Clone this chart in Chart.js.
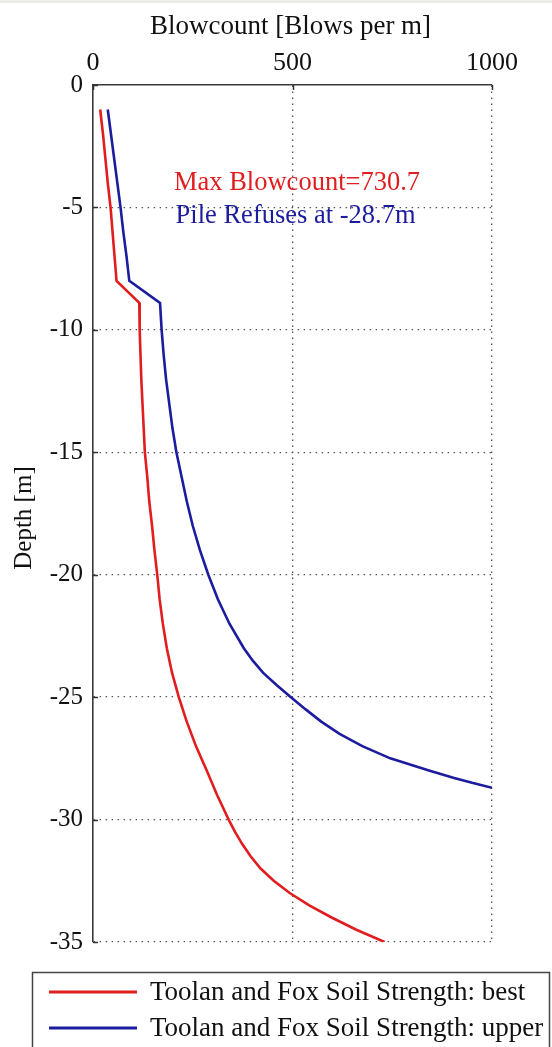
<!DOCTYPE html>
<html>
<head>
<meta charset="utf-8">
<script src="https://cdn.jsdelivr.net/npm/chart.js@4/dist/chart.umd.min.js"></script>
<style>
  html, body { margin: 0; padding: 0; background: #ffffff; }
  #wrap { width: 552px; height: 1047px; }
</style>
</head>
<body>
<div id="wrap"><canvas id="grafica" width="552" height="1047"></canvas></div>
<script>
// Datos (profundidad en m, golpes por m)
const profundidadBest = [-1, -2, -3, -4, -5, -6, -7, -8, -8.9, -10, -11, -12, -13, -14, -15, -16, -17, -18, -19, -20,
  -21, -22, -23, -24, -25, -26, -27, -28, -29, -30, -30.5, -31, -31.5, -32, -32.5, -33, -33.5, -34, -34.5, -35];
const golpesBest = [18, 25, 31, 37, 44, 49, 54, 59, 116, 117, 119, 121, 124, 127, 130, 136, 141, 148, 154, 161,
  167, 175, 185, 198, 215, 235, 258, 285, 311, 340, 356, 374, 395, 420, 453, 493, 542, 598, 660, 730.7];

const profundidadUpper = [-1, -2, -3, -4, -5, -6, -7, -8, -8.9, -10, -11, -12, -13, -14, -15, -16, -17, -18, -19, -20,
  -21, -22, -23, -23.5, -24, -24.5, -25, -25.5, -26, -26.5, -27, -27.5, -28, -28.3, -28.5, -28.7];
const golpesUpper = [37, 45, 53, 61, 69, 76, 84, 91, 168, 172, 177, 183, 191, 199, 209, 222, 235, 250, 268, 289,
  313, 342, 378, 400, 426, 460, 496, 533, 572, 618, 675, 745, 842, 905, 950, 1000];

const etiquetas = ['Toolan and Fox Soil Strength: best', 'Toolan and Fox Soil Strength: upper'];
const ticksX = [0, 500, 1000];
const ticksY = [0, -5, -10, -15, -20, -25, -30, -35];

const ROJO = '#e11d1f';
const AZUL = '#1c1c9e';
const FUENTE = "'Liberation Serif', 'Times New Roman', serif";

function aPuntos(xs, ys) {
  return xs.map((x, i) => ({ x: x, y: ys[i] }));
}

// Textos, marcas interiores y leyenda dibujados a mano
const decoraciones = {
  id: 'decoraciones',
  beforeDraw(chart) {
    const ctx = chart.ctx;
    ctx.save();
    ctx.fillStyle = '#ffffff';
    ctx.fillRect(0, 0, chart.width, chart.height);
    ctx.fillStyle = '#ebebe7';
    ctx.fillRect(0, 0, chart.width, 3);
    ctx.restore();
  },
  afterDraw(chart) {
    const ctx = chart.ctx;
    const area = chart.chartArea;
    const sx = chart.scales.x;
    const sy = chart.scales.y;
    ctx.save();

    // marcas hacia dentro
    ctx.strokeStyle = '#333';
    ctx.lineWidth = 1.5;
    ticksY.forEach(v => {
      const y = Math.round(sy.getPixelForValue(v)) + 0.5;
      ctx.beginPath(); ctx.moveTo(area.left, y); ctx.lineTo(area.left + 5, y); ctx.stroke();
    });
    ticksX.forEach(v => {
      const x = Math.round(sx.getPixelForValue(v)) + 0.5;
      ctx.beginPath(); ctx.moveTo(x, area.top); ctx.lineTo(x, area.top + 5); ctx.stroke();
    });

    // titulos de ejes
    ctx.fillStyle = '#111';
    ctx.font = '27px ' + FUENTE;
    ctx.textAlign = 'center';
    ctx.textBaseline = 'middle';
    ctx.fillText('Blowcount [Blows per m]', (area.left + area.right) / 2 - 2, 27);
    ctx.save();
    ctx.translate(24, 518);
    ctx.rotate(-Math.PI / 2);
    ctx.font = '25px ' + FUENTE;
    ctx.fillText('Depth [m]', 0, 0);
    ctx.restore();

    // anotaciones
    ctx.font = '26.5px ' + FUENTE;
    ctx.textAlign = 'left';
    ctx.fillStyle = ROJO;
    ctx.fillText('Max Blowcount=' + golpesBest[golpesBest.length - 1], sx.getPixelForValue(203), sy.getPixelForValue(-4.0));
    ctx.fillStyle = AZUL;
    ctx.fillText('Pile Refuses at ' + profundidadUpper[profundidadUpper.length - 1] + 'm', sx.getPixelForValue(207), sy.getPixelForValue(-5.35));

    // leyenda
    ctx.strokeStyle = '#444';
    ctx.lineWidth = 1.5;
    ctx.strokeRect(32.5, 972.5, 517, 100);
    const filas = [992, 1028];
    const colores = [ROJO, AZUL];
    ctx.font = '27px ' + FUENTE;
    etiquetas.forEach((txt, i) => {
      ctx.strokeStyle = colores[i];
      ctx.lineWidth = 3;
      ctx.beginPath(); ctx.moveTo(49, filas[i]); ctx.lineTo(137, filas[i]); ctx.stroke();
      ctx.fillStyle = '#111';
      ctx.fillText(txt, 150, filas[i] + 1);
    });
    ctx.restore();
  }
};

const grafica = new Chart(document.getElementById('grafica'), {
  type: 'scatter',
  data: {
    datasets: [
      {
        label: etiquetas[0],
        data: aPuntos(golpesBest, profundidadBest),
        showLine: true,
        borderColor: ROJO,
        borderWidth: 2.6,
        pointRadius: 0,
        tension: 0
      },
      {
        label: etiquetas[1],
        data: aPuntos(golpesUpper, profundidadUpper),
        showLine: true,
        borderColor: AZUL,
        borderWidth: 2.6,
        pointRadius: 0,
        tension: 0
      }
    ]
  },
  options: {
    responsive: false,
    animation: false,
    layout: { padding: { left: 0, top: 0, right: 60, bottom: 105 } },
    plugins: {
      legend: { display: false },
      tooltip: { enabled: false }
    },
    scales: {
      x: {
        type: 'linear',
        position: 'top',
        min: 0,
        max: 1000,
        afterFit: s => { s.height = 85; },
        afterBuildTicks: s => { s.ticks = ticksX.map(v => ({ value: v })); },
        ticks: {
          color: '#111', font: { family: FUENTE, size: 26 }, padding: 6, maxRotation: 0,
          callback: v => String(v)
        },
        grid: {
          drawTicks: false,
          lineWidth: 1.3,
          color: c => (c.tick && c.tick.value === 0) ? 'rgba(0,0,0,0)' : '#555'
        },
        border: { display: true, color: '#3a3a3a', width: 1.6, dash: [1.5, 4.5] }
      },
      y: {
        type: 'linear',
        min: -35,
        max: 0,
        afterFit: s => { s.width = 93; },
        afterBuildTicks: s => { s.ticks = ticksY.map(v => ({ value: v })); },
        ticks: {
          color: '#111', font: { family: FUENTE, size: 25 }, padding: 10,
          callback: v => String(v)
        },
        grid: {
          drawTicks: false,
          lineWidth: 1.3,
          color: c => (c.tick && c.tick.value === 0) ? 'rgba(0,0,0,0)' : '#555'
        },
        border: { display: true, color: '#3a3a3a', width: 1.6, dash: [1.5, 4.5] }
      }
    }
  },
  plugins: [decoraciones]
});
</script>
</body>
</html>
